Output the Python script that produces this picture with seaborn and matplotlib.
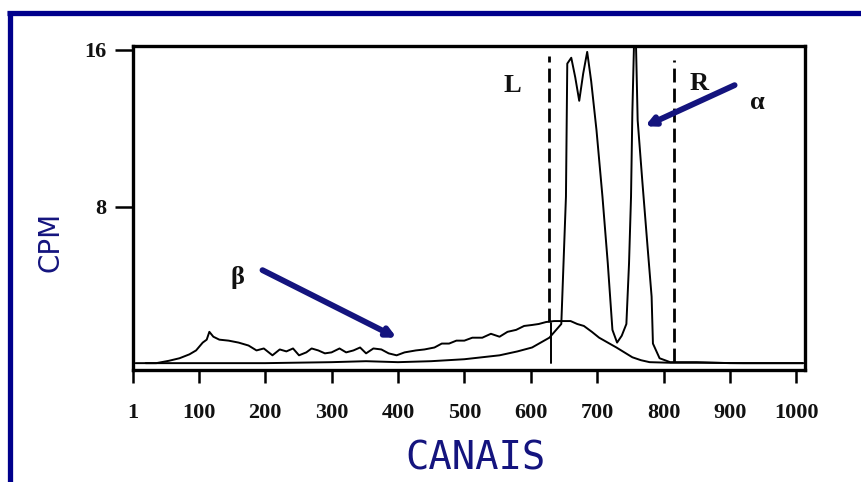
import matplotlib
matplotlib.use("Agg")
import matplotlib.pyplot as plt
import seaborn as sns
import pandas as pd
from matplotlib.lines import Line2D

# ---------------- data ----------------
beta_ch = [20, 36, 55, 71, 86, 96, 106, 112, 116, 122, 131, 145, 160, 175, 187, 198, 211, 222, 232,
           242, 251, 262, 270, 280, 290, 300, 312, 322, 333, 343, 352, 363, 375, 386, 398, 410,
           427, 440, 455, 466, 477, 488, 500, 512, 527, 540, 553, 565, 578, 590, 602, 612, 623,
           635, 645, 660, 670, 680, 692, 703, 716, 729, 741, 753, 766, 779, 810, 860, 920, 1010]
beta_val = [0.0, 0.0, 0.12, 0.25, 0.45, 0.65, 1.05, 1.2, 1.6, 1.35, 1.2, 1.15, 1.05, 0.9, 0.65, 0.75,
            0.4, 0.7, 0.6, 0.75, 0.4, 0.55, 0.75, 0.65, 0.5, 0.55, 0.75, 0.55, 0.65, 0.8, 0.5, 0.75,
            0.7, 0.5, 0.4, 0.55, 0.65, 0.7, 0.8, 1.0, 1.0, 1.15, 1.15, 1.3, 1.3, 1.5, 1.35, 1.6, 1.7,
            1.9, 1.95, 2.0, 2.1, 2.15, 2.15, 2.15, 2.0, 1.9, 1.6, 1.3, 1.05, 0.8, 0.55, 0.3, 0.15,
            0.05, 0.02, 0.02, 0.0, 0.0]

alpha_ch = [5, 100, 200, 300, 352, 400, 450, 500, 553, 580, 602, 628, 646, 653, 655, 661, 667, 673,
            679, 685, 691, 699, 708, 716, 723, 730, 737, 744, 748, 751, 753, 756, 758, 761, 768,
            776, 782, 784, 794, 810, 850, 900, 1010]
alpha_val = [0.0, 0.0, 0.0, 0.05, 0.1, 0.05, 0.1, 0.2, 0.4, 0.6, 0.8, 1.3, 2.0, 8.5, 15.3, 15.6,
             14.6, 13.4, 14.8, 15.9, 14.4, 11.9, 8.5, 5.1, 1.7, 1.05, 1.4, 2.0, 5.1, 8.5, 12.8,
             17.0, 17.0, 12.4, 9.3, 5.9, 3.4, 1.0, 0.25, 0.05, 0.05, 0.0, 0.0]

window_ch = [628, 816]           # L and R window limits (channels)
window_labels = ["L", "R"]

x_ticks = [1, 100, 200, 300, 400, 500, 600, 700, 800, 900, 1000]
x_tick_labels = ["1", "100", "200", "300", "400", "500", "600", "700", "800", "900", "1000"]
y_ticks = [8, 16]
y_tick_labels = ["8", "16"]

# ---------------- figure ----------------
sns.set_style("white")
plt.rcParams["font.family"] = ["DejaVu Sans"]

NAVY = "#14147e"
W, H = 861, 482
fig = plt.figure(figsize=(W / 100, H / 100), dpi=100)
fig.patch.set_facecolor("white")
ax = fig.add_axes([133 / W, 1 - 370 / H, (805 - 133) / W, (370 - 46) / H])

df_beta = pd.DataFrame({"canal": beta_ch, "cpm": beta_val})
df_alpha = pd.DataFrame({"canal": alpha_ch, "cpm": alpha_val})
sns.lineplot(data=df_beta, x="canal", y="cpm", ax=ax, color="black", lw=1.4, sort=False)
sns.lineplot(data=df_alpha, x="canal", y="cpm", ax=ax, color="black", lw=1.4, sort=False)

# window lines
ax.plot([window_ch[0], window_ch[0]], [2.1, 15.7], color="black", lw=2.0, ls=(0, (5, 2.2)))
ax.plot([window_ch[0] + 2, window_ch[0] + 2], [0, 2.05], color="black", lw=1.4)
ax.plot([window_ch[1], window_ch[1]], [0.05, 15.5], color="black", lw=2.0, ls=(0, (5, 2.2)))

ax.set_xlim(1, 1013)
ax.set_ylim(-0.35, 16.2)

# labels inside the plot
serif = dict(family=["Liberation Serif", "DejaVu Serif"], fontweight="bold", fontsize=19, color="#111111")
ax.text(572, 14.2, window_labels[0], ha="center", va="center", **serif)
ax.text(854, 14.3, window_labels[1], ha="center", va="center", **serif)
ax.text(941, 13.3, "α", ha="center", va="center", **serif)
ax.text(158, 4.4, "β", ha="center", va="center", **serif)

arrow = dict(arrowstyle="-|>", color=NAVY, lw=4.2, mutation_scale=13, shrinkA=0, shrinkB=0)
ax.annotate("", xy=(398, 1.3), xytext=(196, 4.75), arrowprops=arrow)
ax.annotate("", xy=(772, 12.1), xytext=(907, 14.2), arrowprops=arrow)

# axes styling
for s in ax.spines.values():
    s.set_visible(True)
    s.set_color("black")
    s.set_linewidth(2.4)
ax.set_xticks(x_ticks)
ax.set_xticklabels(x_tick_labels)
ax.set_yticks(y_ticks)
ax.set_yticklabels(y_tick_labels)
ax.tick_params(axis="x", bottom=True, direction="out", length=9, width=1.8, pad=15, colors="black")
ax.tick_params(axis="y", left=True, direction="out", length=13, width=1.8, pad=6, colors="black")
for lab in ax.get_xticklabels() + ax.get_yticklabels():
    lab.set_fontfamily(["Liberation Serif", "DejaVu Serif"])
    lab.set_fontweight("bold")
    lab.set_fontsize(16)
    lab.set_color("#111111")
ax.set_xlabel("")
ax.set_ylabel("")

# outer titles
fig.text(51 / W, 1 - 242 / H, "CPM", rotation=90, ha="center", va="center",
         fontsize=20, color=NAVY, family=["DejaVu Sans"])
fig.text(476 / W, 1 - 459 / H, "CANAIS", ha="center", va="center",
         fontsize=28, color=NAVY, family=["DejaVu Sans Mono"])

# blue frame (top and left)
fig.add_artist(Line2D([7 / W, 1.0], [1 - 12.5 / H, 1 - 12.5 / H], transform=fig.transFigure,
                      color="#00008c", lw=3.8, solid_capstyle="butt"))
fig.add_artist(Line2D([9.5 / W, 9.5 / W], [0.0, 1 - 10.5 / H], transform=fig.transFigure,
                      color="#00008c", lw=3.8, solid_capstyle="butt"))

fig.savefig("out.png", dpi=100, facecolor="white")
